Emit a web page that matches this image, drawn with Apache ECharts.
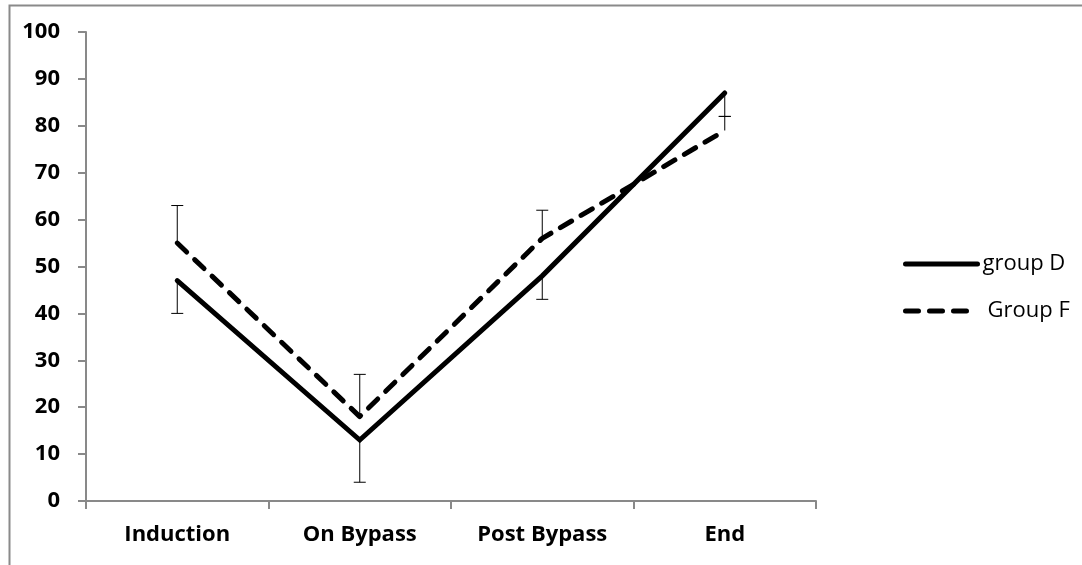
<!DOCTYPE html>
<html>
<head>
<meta charset="utf-8">
<script src="https://cdn.jsdelivr.net/npm/echarts@6/dist/echarts.min.js"></script>
<style>
html,body{margin:0;padding:0;background:#fff;}
#chart{width:1082px;height:565px;}
</style>
</head>
<body>
<div id="chart"></div>
<script>
var categories = ['Induction', 'On Bypass', 'Post Bypass', 'End'];
var groupD = [47, 13, 48, 87];
var groupF = [55, 18, 56, 79];
var groupDErrLow = [40, 4, 43, 82];   // error bar ends below group D
var groupFErrHigh = [63, 27, 62, 82]; // error bar ends above group F
var yTicks = [0, 10, 20, 30, 40, 50, 60, 70, 80, 90, 100];

var FONT = '"Open Sans", "Liberation Sans", sans-serif';

var errData = [];
for (var i = 0; i < categories.length; i++) {
  errData.push([i, groupD[i], groupDErrLow[i]]);
  errData.push([i, groupF[i], groupFErrHigh[i]]);
}

function renderErr(params, api) {
  var x = api.value(0);
  var p1 = api.coord([x, api.value(1)]);
  var p2 = api.coord([x, api.value(2)]);
  var hw = 6;
  var style = {stroke: '#000', lineWidth: 1, fill: null};
  return {
    type: 'group',
    children: [
      {type: 'line', shape: {x1: p1[0], y1: p1[1], x2: p2[0], y2: p2[1]}, style: style},
      {type: 'line', shape: {x1: p2[0] - hw, y1: p2[1], x2: p2[0] + hw, y2: p2[1]}, style: style}
    ]
  };
}

var chart = echarts.init(document.getElementById('chart'), null, {renderer: 'canvas'});
chart.setOption({
  animation: false,
  backgroundColor: '#fff',
  graphic: [{
    type: 'rect', left: 7, top: 3, silent: true, z: 100,
    shape: {x: 0, y: 0, width: 1200, height: 700},
    style: {fill: null, stroke: '#8a8a8a', lineWidth: 2}
  }],
  grid: {left: 86, right: 266, top: 32, bottom: 64, containLabel: false},
  legend: [{
    data: ['group D'], left: 903, top: 253, orient: 'vertical', padding: 0,
    itemWidth: 72, itemHeight: 16, itemGap: 5,
    itemStyle: {opacity: 0},
    lineStyle: {width: 5, cap: 'round'},
    textStyle: {fontFamily: FONT, fontSize: 22, color: '#000'}
  }, {
    data: ['Group F'], left: 903, top: 300, orient: 'vertical', padding: 0,
    itemWidth: 62, itemHeight: 16, itemGap: 5,
    itemStyle: {opacity: 0},
    lineStyle: {width: 5, cap: 'round'},
    textStyle: {fontFamily: FONT, fontSize: 22, color: '#000', padding: [0, 0, 0, 15]}
  }],
  xAxis: {
    type: 'category',
    data: categories,
    boundaryGap: true,
    axisLine: {lineStyle: {color: '#898989', width: 2}},
    axisTick: {show: true, length: 8, lineStyle: {color: '#898989', width: 2}},
    axisLabel: {fontFamily: FONT, fontSize: 22, fontWeight: 'bold', color: '#000', margin: 23},
    splitLine: {show: false}
  },
  yAxis: {
    type: 'value',
    min: yTicks[0], max: yTicks[yTicks.length - 1], interval: yTicks[1] - yTicks[0],
    axisLine: {show: true, lineStyle: {color: '#898989', width: 2}},
    axisTick: {show: true, length: 8, lineStyle: {color: '#898989', width: 2}},
    axisLabel: {fontFamily: FONT, fontSize: 22, fontWeight: 'bold', color: '#000', margin: 26},
    splitLine: {show: false}
  },
  series: [{
    name: 'group D', type: 'line', data: groupD,
    symbol: 'none', z: 3,
    lineStyle: {color: '#000', width: 5, type: 'solid', join: 'miter', cap: 'round'},
    itemStyle: {color: '#000'}
  }, {
    name: 'Group F', type: 'line', data: groupF,
    symbol: 'none', z: 3,
    lineStyle: {color: '#000', width: 5, type: [13, 11], cap: 'round', join: 'round'},
    itemStyle: {color: '#000'}
  }, {
    type: 'custom', data: errData, renderItem: renderErr, z: 2, silent: true,
    encode: {x: 0, y: [1, 2]}
  }]
});
</script>
</body>
</html>
